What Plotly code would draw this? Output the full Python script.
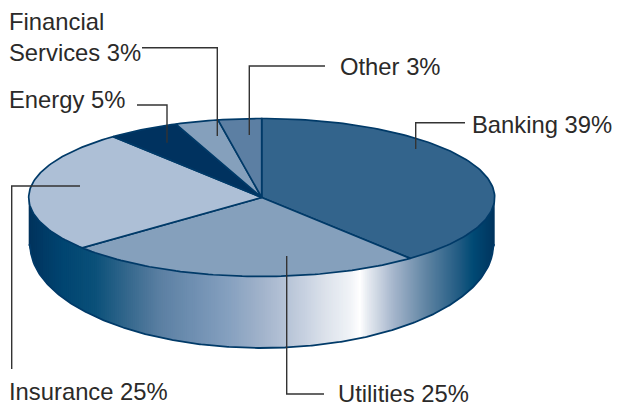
import math
import plotly.graph_objects as go

categories = ["Banking", "Utilities", "Insurance", "Energy", "Financial<br>Services", "Other"]
shares = [39, 25, 25, 5, 3, 3]
slice_colors = ["#33648c", "#85a0bc", "#adbfd6", "#00325f", "#85a0bc", "#5c7fa3"]
label_xy = [(470, 124.5), (335.5, 393), (7, 391), (7, 99), (6.5, 37), (338, 66)]
leaders = [
    [(465, 122.7), (415.7, 122.7), (415.7, 149)],
    [(286.7, 256), (286.7, 394), (324, 394)],
    [(80, 186), (11.7, 186), (11.7, 369)],
    [(137, 105), (167, 105), (167, 142.7)],
    [(142, 47.7), (217.3, 47.7), (217.3, 136)],
    [(325, 66), (249.3, 66), (249.3, 135)],
]
grad_x = [28, 61, 95, 128, 161, 195, 228, 260, 293, 327, 350, 360, 367, 393, 427, 460, 473, 496]
grad_rgb = [(0, 50, 92), (0, 68, 112), (10, 80, 121), (53, 104, 141), (92, 128, 163), (112, 144, 178),
            (133, 160, 191), (160, 178, 202), (188, 200, 218), (221, 227, 236), (240, 243, 247),
            (255, 255, 255), (232, 236, 242), (166, 182, 204), (94, 131, 162), (31, 90, 130),
            (0, 74, 117), (0, 50, 92)]

CX, CY, RX, RY = 261.7, 197.5, 233, 79
BOT_CY, BOT_RX, BOT_RY = 245, 231.5, 103
EDGE = "#003a68"
TEXT = "#2b2a29"

fig = go.Figure()


def grad_color(x):
    for i in range(len(grad_x) - 1):
        if grad_x[i] <= x <= grad_x[i + 1]:
            t = (x - grad_x[i]) / (grad_x[i + 1] - grad_x[i])
            c = [round(a + (b - a) * t) for a, b in zip(grad_rgb[i], grad_rgb[i + 1])]
            return f"rgb({c[0]},{c[1]},{c[2]})"
    return f"rgb{grad_rgb[-1]}"


def top_front(x):
    return CY + RY * math.sqrt(max(0, 1 - ((x - CX) / RX) ** 2))


def bottom(x):
    u = (x - CX) / BOT_RX
    return BOT_CY + BOT_RY * math.sqrt(max(0, 1 - u * u)) if abs(u) < 1 else BOT_CY


x_left, x_right = CX - RX, CX + RX
n = 233
for i in range(n):
    x0 = x_left + (x_right - x_left) * i / n
    x1 = min(x_right, x_left + (x_right - x_left) * (i + 1) / n + 1)
    col = grad_color(x0 + 1)
    fig.add_trace(go.Scatter(
        x=[x0, x1, x1, x0, x0],
        y=[top_front(x0), top_front(x1), bottom(x1), bottom(x0), top_front(x0)],
        mode="lines", fill="toself", fillcolor=col, line=dict(width=0),
        hoverinfo="skip", showlegend=False))

# Outline of the side wall
xs = [x_left + (x_right - x_left) * i / 400 for i in range(401)]
fig.add_trace(go.Scatter(x=xs, y=[bottom(v) for v in xs], mode="lines",
                         line=dict(color=EDGE, width=1.8), hoverinfo="skip", showlegend=False))

# Top-face slices, clockwise from twelve o'clock
total = sum(shares)
cum = 0
for share, col in zip(shares, slice_colors):
    a0 = 2 * math.pi * cum / total
    a1 = 2 * math.pi * (cum + share) / total
    cum += share
    steps = max(4, share * 3)
    ang = [a0 + (a1 - a0) * k / steps for k in range(steps + 1)]
    px = [CX] + [CX + RX * math.sin(a) for a in ang] + [CX]
    py = [CY] + [CY - RY * math.cos(a) for a in ang] + [CY]
    fig.add_trace(go.Scatter(x=px, y=py, mode="lines", fill="toself", fillcolor=col,
                             line=dict(color=EDGE, width=1.7), hoverinfo="skip", showlegend=False))

for pts in leaders:
    fig.add_trace(go.Scatter(x=[p[0] for p in pts], y=[p[1] for p in pts], mode="lines",
                             line=dict(color="#333333", width=1.4), hoverinfo="skip", showlegend=False))

for cat, share, (lx, ly) in zip(categories, shares, label_xy):
    fig.add_annotation(x=lx, y=ly, xref="x", yref="y", text=f"{cat} {share}%", showarrow=False,
                       xanchor="left", yanchor="middle", align="left",
                       font=dict(family="Liberation Sans", size=23.8, color=TEXT))

fig.update_layout(
    width=617, height=404, margin=dict(l=0, r=0, t=0, b=0),
    paper_bgcolor="white", plot_bgcolor="white", showlegend=False,
    xaxis=dict(range=[0, 617], visible=False, fixedrange=True),
    yaxis=dict(range=[404, 0], visible=False, fixedrange=True),
)
fig.write_html("out.html", config={"displayModeBar": False},
               post_script="document.body.style.margin='0';document.body.style.overflow='hidden';")
